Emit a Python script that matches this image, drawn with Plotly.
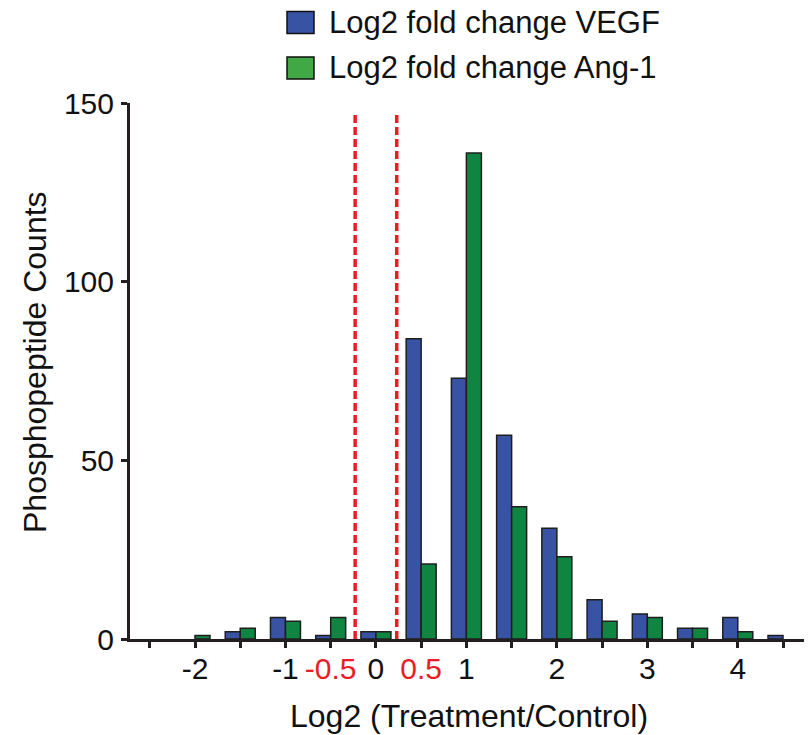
import plotly.graph_objects as go

# Histogram bins (Log2 Treatment/Control), one per 0.5 step
bins = [-2.0, -1.5, -1.0, -0.5, 0.0, 0.5, 1.0, 1.5, 2.0, 2.5, 3.0, 3.5, 4.0, 4.5]
vegf_counts = [0, 2, 6, 1, 2, 84, 73, 57, 31, 11, 7, 3, 6, 1]
ang1_counts = [1, 3, 5, 6, 2, 21, 136, 37, 23, 5, 6, 3, 2, 0]

# Threshold lines
thresholds = [-0.23, 0.23]
threshold_top = 147

tick_vals = [-2.5, -2.0, -1.5, -1.0, -0.5, 0.0, 0.5, 1.0, 1.5, 2.0, 2.5, 3.0, 3.5, 4.0, 4.5]
tick_text = ["", "-2", "", "-1", "-0.5", "0", "0.5", "1", "", "2", "", "3", "", "4", ""]
red_ticks = {"-0.5", "0.5"}

series_names = ["Log2 fold change VEGF", "Log2 fold change Ang-1"]
bar_colors = ["#3953a4", "#108541"]
legend_colors = ["#3953a4", "#41a846"]

W, H = 811, 735
ML, MR, MT, MB = 130, 7, 103, 96
FONT = "Liberation Sans, Arial, sans-serif"
INK = "#231f20"
RED = "#ed1c24"


def px_x(p):
    return (p - ML) / (W - ML - MR)


def px_y(p):
    return (H - MB - p) / (H - MT - MB)


fig = go.Figure()
for name, vals, col in zip(series_names, [vegf_counts, ang1_counts], bar_colors):
    # empty bins get no outline so nothing is drawn on the baseline
    widths = [1.5 if v > 0 else 0 for v in vals]
    fig.add_trace(go.Bar(
        x=bins, y=vals, name=name, showlegend=False,
        marker=dict(color=col, line=dict(color="#1e1e1e", width=widths)),
    ))

for t in thresholds:
    fig.add_shape(type="line", xref="x", yref="y", x0=t, x1=t, y0=0, y1=threshold_top,
                  line=dict(color=RED, width=3.5, dash="8px,4px"), layer="above")

ticktext = [f"<span style='color:{RED}'>{t}</span>" if t in red_ticks else t for t in tick_text]

# Legend drawn as boxes and labels above the plot
legend_rows = [22.5, 68]
for name, col, cy in zip(series_names, legend_colors, legend_rows):
    fig.add_shape(type="rect", xref="paper", yref="paper",
                  x0=px_x(287), x1=px_x(314), y0=px_y(cy - 11), y1=px_y(cy + 11),
                  fillcolor=col, line=dict(color="#111", width=1.5))
    fig.add_annotation(text=name, xref="paper", yref="paper", x=px_x(327), y=px_y(cy),
                       xanchor="left", yanchor="middle", showarrow=False,
                       font=dict(family=FONT, size=31, color="#111"))

fig.add_annotation(text="Log2 (Treatment/Control)", xref="paper", yref="paper",
                   x=px_x(469), y=px_y(716), xanchor="center", yanchor="middle",
                   showarrow=False, font=dict(family=FONT, size=32, color="#111"))
fig.add_annotation(text="Phosphopeptide Counts", xref="paper", yref="paper",
                   x=px_x(35), y=px_y(362), xanchor="center", yanchor="middle",
                   textangle=-90, showarrow=False, font=dict(family=FONT, size=32, color="#111"))

fig.update_layout(
    width=W, height=H,
    margin=dict(l=ML, r=MR, t=MT, b=MB, pad=0),
    paper_bgcolor="white", plot_bgcolor="white",
    barmode="group", bargap=0.337, bargroupgap=0,
    showlegend=False,
    font=dict(family=FONT, size=30, color="#111"),
)
fig.update_xaxes(
    range=[-2.7186, 4.732], tickvals=tick_vals, ticktext=ticktext,
    showgrid=False, zeroline=False, showline=True, linecolor=INK, linewidth=3,
    ticks="outside", ticklen=6, tickwidth=3, tickcolor=INK,
    tickfont=dict(family=FONT, size=30, color="#111"), ticklabelstandoff=-5,
)
fig.update_yaxes(
    range=[0, 150], tickvals=[0, 50, 100, 150],
    showgrid=False, zeroline=False, showline=True, linecolor=INK, linewidth=3,
    ticks="outside", ticklen=6, tickwidth=3, tickcolor=INK,
    tickfont=dict(family=FONT, size=30, color="#111"), ticklabelstandoff=1,
)

fig.write_html("out.html")
